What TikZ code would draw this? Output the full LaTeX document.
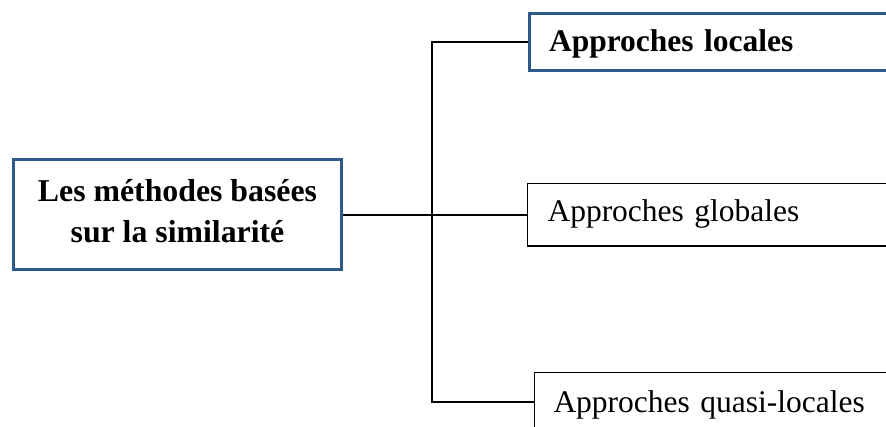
\documentclass[tikz,border=0pt]{standalone}
\usepackage{fontspec}
\setmainfont{Liberation Serif}
\definecolor{boxblue}{HTML}{2F5A8C}
\begin{document}
\begin{tikzpicture}[x=1pt,y=-1pt,
  txt/.style={font=\fontsize{31.5}{41}\selectfont, text=black},
  bluebox/.style={draw=boxblue, line width=3pt, fill=white},
  blackbox/.style={draw=black, line width=1.5pt, fill=white},
  leftbox/.style={anchor=west, align=left, inner ysep=0pt},
  conn/.style={draw=black, line width=1.6pt}]
\useasboundingbox (0,0) rectangle (886,427);
\clip (0,0) rectangle (886,427);
\coordinate (spine) at (432,0);
% source box
\node[bluebox, minimum width=328pt, minimum height=110pt, inner sep=0pt] (src) at (177.5,214.5) {};
\node[txt, font=\fontsize{31.8}{41}\selectfont\bfseries, align=center, inner sep=0pt] (srctxt) at (177.5,211) {Les méthodes basées\\sur la similarité};
% target boxes
\node[bluebox, txt, leftbox, font=\fontsize{31.5}{41}\selectfont\bfseries, minimum height=57pt, inner xsep=20pt, text width=380pt, text height=24pt, text depth=4pt] (loc) at (527.5,42) {Approches locales};
\node[blackbox, txt, leftbox, minimum height=62.5pt, inner xsep=20pt, text width=380pt, text height=22pt, text depth=8pt] (glob) at (526.75,215) {Approches globales};
\node[blackbox, txt, leftbox, minimum height=58.5pt, inner xsep=19pt, text width=380pt, text height=24pt, text depth=4pt] (quasi) at (533.75,402) {Approches quasi-locales};
% connectors
\draw[conn] (loc.west) -| (spine |- quasi.west) -- (quasi.west);
\draw[conn] (src.east |- glob.west) -- (glob.west);
\end{tikzpicture}
\end{document}
